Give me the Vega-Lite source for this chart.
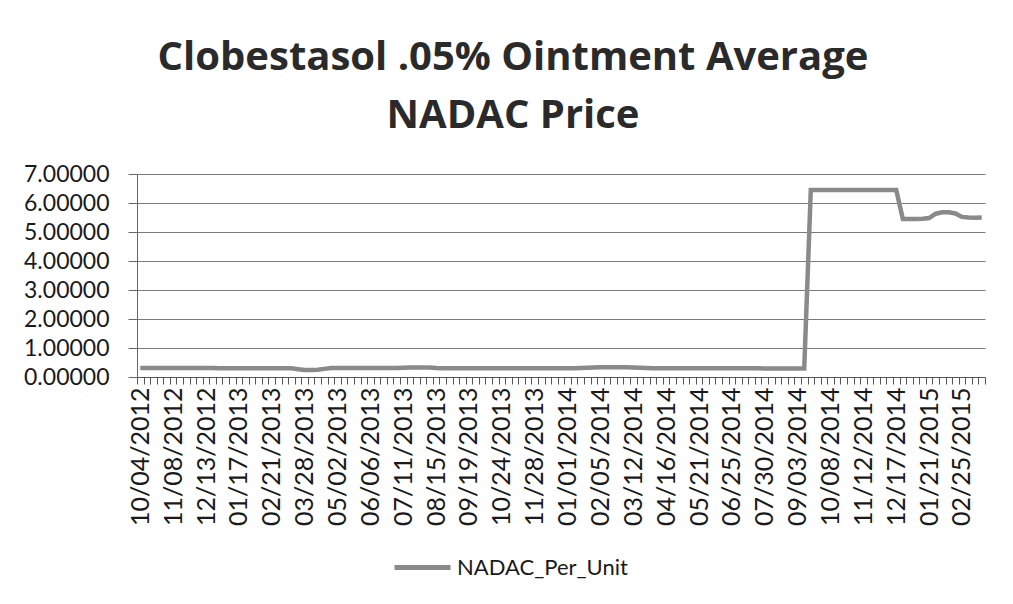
{
  "$schema": "https://vega.github.io/schema/vega-lite/v6.json",
  "autosize": {"type": "none"},
  "width": 848,
  "height": 203,
  "padding": {"left": 137, "top": 174, "right": 28, "bottom": 227},
  "background": "white",
  "title": {
    "text": ["Clobestasol .05% Ointment Average", "NADAC Price"],
    "font": "Open Sans",
    "fontSize": 40,
    "fontWeight": "bold",
    "color": "#2a2a2a",
    "anchor": "middle",
    "frame": "group",
    "dx": -48,
    "lineHeight": 58,
    "baseline": "alphabetic",
    "offset": -5
  },
  "data": {
    "values": [
      {"date": "10/04/2012", "price": 0.31},
      {"date": "10/11/2012", "price": 0.31},
      {"date": "10/18/2012", "price": 0.31},
      {"date": "10/25/2012", "price": 0.31},
      {"date": "11/01/2012", "price": 0.31},
      {"date": "11/08/2012", "price": 0.31},
      {"date": "11/15/2012", "price": 0.31},
      {"date": "11/22/2012", "price": 0.31},
      {"date": "11/29/2012", "price": 0.31},
      {"date": "12/06/2012", "price": 0.31},
      {"date": "12/13/2012", "price": 0.31},
      {"date": "12/20/2012", "price": 0.31},
      {"date": "12/27/2012", "price": 0.30},
      {"date": "01/03/2013", "price": 0.30},
      {"date": "01/10/2013", "price": 0.30},
      {"date": "01/17/2013", "price": 0.30},
      {"date": "01/24/2013", "price": 0.30},
      {"date": "01/31/2013", "price": 0.30},
      {"date": "02/07/2013", "price": 0.30},
      {"date": "02/14/2013", "price": 0.30},
      {"date": "02/21/2013", "price": 0.30},
      {"date": "02/28/2013", "price": 0.30},
      {"date": "03/07/2013", "price": 0.30},
      {"date": "03/14/2013", "price": 0.30},
      {"date": "03/21/2013", "price": 0.27},
      {"date": "03/28/2013", "price": 0.24},
      {"date": "04/04/2013", "price": 0.24},
      {"date": "04/11/2013", "price": 0.25},
      {"date": "04/18/2013", "price": 0.28},
      {"date": "04/25/2013", "price": 0.31},
      {"date": "05/02/2013", "price": 0.31},
      {"date": "05/09/2013", "price": 0.31},
      {"date": "05/16/2013", "price": 0.31},
      {"date": "05/23/2013", "price": 0.31},
      {"date": "05/30/2013", "price": 0.31},
      {"date": "06/06/2013", "price": 0.31},
      {"date": "06/13/2013", "price": 0.31},
      {"date": "06/20/2013", "price": 0.31},
      {"date": "06/27/2013", "price": 0.31},
      {"date": "07/04/2013", "price": 0.31},
      {"date": "07/11/2013", "price": 0.32},
      {"date": "07/18/2013", "price": 0.33},
      {"date": "07/25/2013", "price": 0.33},
      {"date": "08/01/2013", "price": 0.33},
      {"date": "08/08/2013", "price": 0.33},
      {"date": "08/15/2013", "price": 0.31},
      {"date": "08/22/2013", "price": 0.30},
      {"date": "08/29/2013", "price": 0.30},
      {"date": "09/05/2013", "price": 0.30},
      {"date": "09/12/2013", "price": 0.30},
      {"date": "09/19/2013", "price": 0.30},
      {"date": "09/26/2013", "price": 0.30},
      {"date": "10/03/2013", "price": 0.30},
      {"date": "10/10/2013", "price": 0.30},
      {"date": "10/17/2013", "price": 0.30},
      {"date": "10/24/2013", "price": 0.30},
      {"date": "10/31/2013", "price": 0.30},
      {"date": "11/07/2013", "price": 0.30},
      {"date": "11/14/2013", "price": 0.30},
      {"date": "11/21/2013", "price": 0.30},
      {"date": "11/28/2013", "price": 0.30},
      {"date": "12/05/2013", "price": 0.30},
      {"date": "12/12/2013", "price": 0.30},
      {"date": "12/19/2013", "price": 0.30},
      {"date": "12/26/2013", "price": 0.30},
      {"date": "01/01/2014", "price": 0.30},
      {"date": "01/08/2014", "price": 0.30},
      {"date": "01/15/2014", "price": 0.31},
      {"date": "01/22/2014", "price": 0.32},
      {"date": "01/29/2014", "price": 0.33},
      {"date": "02/05/2014", "price": 0.34},
      {"date": "02/12/2014", "price": 0.34},
      {"date": "02/19/2014", "price": 0.34},
      {"date": "02/26/2014", "price": 0.34},
      {"date": "03/05/2014", "price": 0.34},
      {"date": "03/12/2014", "price": 0.33},
      {"date": "03/19/2014", "price": 0.32},
      {"date": "03/26/2014", "price": 0.31},
      {"date": "04/02/2014", "price": 0.30},
      {"date": "04/09/2014", "price": 0.30},
      {"date": "04/16/2014", "price": 0.30},
      {"date": "04/23/2014", "price": 0.30},
      {"date": "04/30/2014", "price": 0.30},
      {"date": "05/07/2014", "price": 0.30},
      {"date": "05/14/2014", "price": 0.30},
      {"date": "05/21/2014", "price": 0.30},
      {"date": "05/28/2014", "price": 0.30},
      {"date": "06/04/2014", "price": 0.30},
      {"date": "06/11/2014", "price": 0.30},
      {"date": "06/18/2014", "price": 0.30},
      {"date": "06/25/2014", "price": 0.30},
      {"date": "07/02/2014", "price": 0.30},
      {"date": "07/09/2014", "price": 0.30},
      {"date": "07/16/2014", "price": 0.30},
      {"date": "07/23/2014", "price": 0.30},
      {"date": "07/30/2014", "price": 0.29},
      {"date": "08/06/2014", "price": 0.29},
      {"date": "08/13/2014", "price": 0.29},
      {"date": "08/20/2014", "price": 0.29},
      {"date": "08/27/2014", "price": 0.29},
      {"date": "09/03/2014", "price": 0.29},
      {"date": "09/10/2014", "price": 0.29},
      {"date": "09/17/2014", "price": 6.45},
      {"date": "09/24/2014", "price": 6.45},
      {"date": "10/01/2014", "price": 6.45},
      {"date": "10/08/2014", "price": 6.45},
      {"date": "10/15/2014", "price": 6.45},
      {"date": "10/22/2014", "price": 6.45},
      {"date": "10/29/2014", "price": 6.45},
      {"date": "11/05/2014", "price": 6.45},
      {"date": "11/12/2014", "price": 6.45},
      {"date": "11/19/2014", "price": 6.45},
      {"date": "11/26/2014", "price": 6.45},
      {"date": "12/03/2014", "price": 6.45},
      {"date": "12/10/2014", "price": 6.45},
      {"date": "12/17/2014", "price": 6.45},
      {"date": "12/24/2014", "price": 5.45},
      {"date": "12/31/2014", "price": 5.45},
      {"date": "01/07/2015", "price": 5.45},
      {"date": "01/14/2015", "price": 5.46},
      {"date": "01/21/2015", "price": 5.48},
      {"date": "01/28/2015", "price": 5.63},
      {"date": "02/04/2015", "price": 5.68},
      {"date": "02/11/2015", "price": 5.68},
      {"date": "02/18/2015", "price": 5.64},
      {"date": "02/25/2015", "price": 5.52},
      {"date": "03/04/2015", "price": 5.50},
      {"date": "03/11/2015", "price": 5.49},
      {"date": "03/18/2015", "price": 5.50}
    ]
  },
  "mark": {"type": "line", "strokeWidth": 4.5, "interpolate": "linear"},
  "encoding": {
    "x": {
      "field": "date",
      "type": "ordinal",
      "sort": null,
      "bandPosition": 0.5,
      "scale": {"type": "band", "paddingInner": 0, "paddingOuter": 0},
      "axis": {
        "title": null,
        "labelAngle": -90,
        "labelFont": "Lato",
        "labelFontSize": 25,
        "labelColor": "#1a1a1a",
        "labelPadding": 3,
        "labelOverlap": false,
        "labelBound": false,
        "labelFlush": false,
        "tickBand": "extent",
        "tickSize": 7,
        "tickColor": "#555555",
        "domainColor": "#555555",
        "grid": false,
        "labelExpr": "indexof(['10/04/2012','11/08/2012','12/13/2012','01/17/2013','02/21/2013','03/28/2013','05/02/2013','06/06/2013','07/11/2013','08/15/2013','09/19/2013','10/24/2013','11/28/2013','01/01/2014','02/05/2014','03/12/2014','04/16/2014','05/21/2014','06/25/2014','07/30/2014','09/03/2014','10/08/2014','11/12/2014','12/17/2014','01/21/2015','02/25/2015'], datum.value) >= 0 ? datum.value : ''"
      }
    },
    "y": {
      "field": "price",
      "type": "quantitative",
      "scale": {"domain": [0, 7], "nice": false, "zero": true},
      "axis": {
        "title": null,
        "values": [0, 1, 2, 3, 4, 5, 6, 7],
        "format": ".5f",
        "labelFont": "Lato",
        "labelFontSize": 23,
        "labelColor": "#1a1a1a",
        "labelPadding": 19,
        "tickSize": 9,
        "tickColor": "#666666",
        "domainColor": "#666666",
        "grid": true,
        "gridColor": "#7a7a7a",
        "gridWidth": 1
      }
    },
    "color": {
      "datum": "NADAC_Per_Unit",
      "type": "nominal",
      "scale": {"range": ["#8a8a8a"]},
      "legend": {
        "title": null,
        "orient": "none",
        "legendX": 255,
        "legendY": 363,
        "symbolType": "stroke",
        "symbolSize": 3136,
        "symbolStrokeWidth": 5,
        "labelFont": "Lato",
        "labelFontSize": 22,
        "labelLimit": 0,
        "labelColor": "#1a1a1a",
        "labelOffset": 4
      }
    }
  },
  "config": {
    "view": {"stroke": null},
    "font": "Lato"
  }
}
